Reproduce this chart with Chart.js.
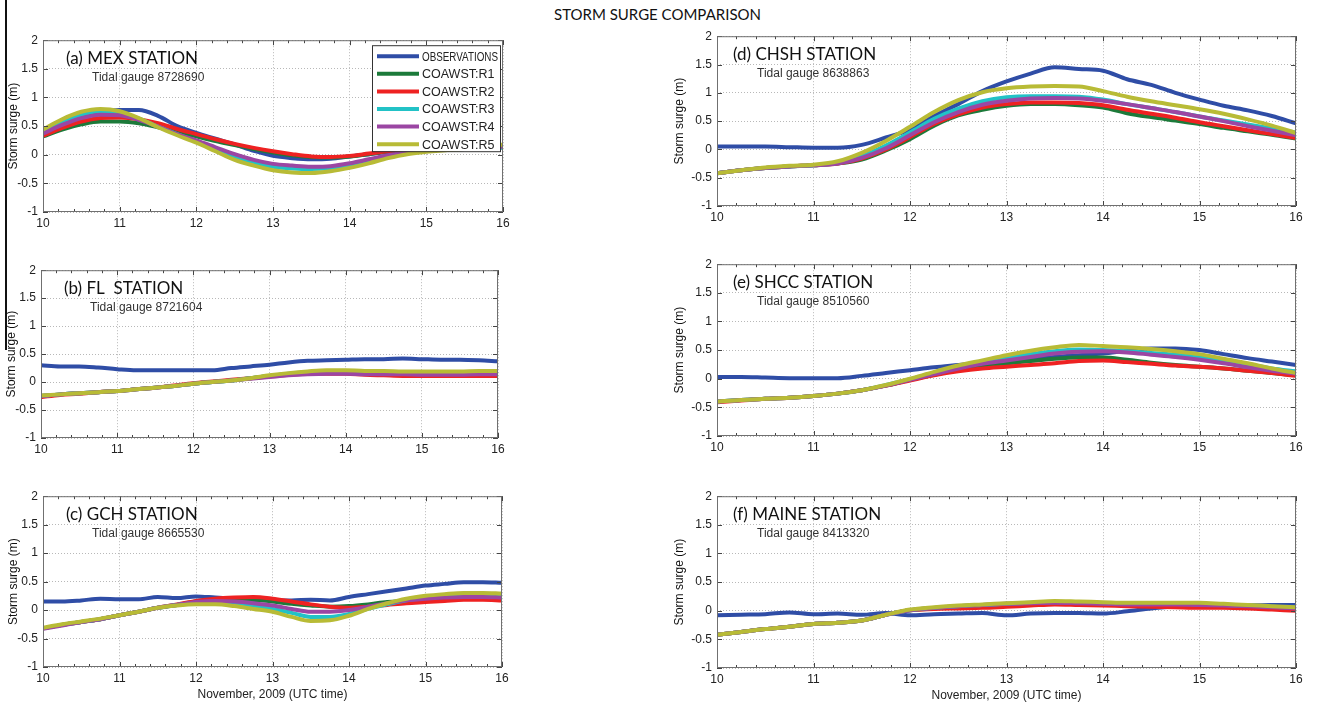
<!DOCTYPE html>
<html>
<head>
<meta charset="utf-8">
<script src="https://cdn.jsdelivr.net/npm/chart.js@4.4.0/dist/chart.umd.min.js"></script>
<style>
  body { margin: 0; background: #fff; width: 1319px; height: 708px; overflow: hidden; position: relative; }
  canvas { position: absolute; }
  #title { position: absolute; left: 0; top: 5px; width: 1315px; text-align: center;
           font: 15px Lato, "Open Sans", sans-serif; color: #111; line-height: 18px; }
  #edge { position: absolute; left: 5px; top: 0; width: 1.5px; height: 350px; background: #111; }
</style>
</head>
<body>
<div id="title">STORM SURGE COMPARISON</div>
<div id="edge"></div>
<script>
// time axis, days of November 2009
const days = [10, 10.25, 10.5, 10.75, 11, 11.25, 11.5, 11.75, 12, 12.25, 12.5, 12.75, 13,
              13.25, 13.5, 13.75, 14, 14.25, 14.5, 14.75, 15, 15.25, 15.5, 15.75, 16];

const seriesNames = ['OBSERVATIONS', 'COAWST:R1', 'COAWST:R2', 'COAWST:R3', 'COAWST:R4', 'COAWST:R5'];
const seriesColors = ['#2f4da6', '#1c7a3a', '#ee2222', '#22c2c6', '#9b46a3', '#b8bb36'];
const xTicks = [10, 11, 12, 13, 14, 15, 16];
const yTicks = [-1, -0.5, 0, 0.5, 1, 1.5, 2];

// (a) MEX
const mexObs = [0.38,0.52,0.64,0.74,0.78,0.78,0.68,0.50,0.38,0.28,0.18,0.07,-0.02,-0.06,-0.08,-0.07,-0.03,0.01,0.05,0.08,0.10,0.11,0.12,0.13,0.14];
const mexR1  = [0.32,0.44,0.53,0.58,0.58,0.55,0.48,0.40,0.32,0.24,0.17,0.10,0.04,-0.01,-0.04,-0.05,-0.03,0.01,0.05,0.08,0.10,0.11,0.12,0.13,0.14];
const mexR2  = [0.33,0.47,0.58,0.64,0.65,0.62,0.55,0.45,0.36,0.27,0.19,0.12,0.06,0.01,-0.03,-0.04,-0.02,0.02,0.06,0.09,0.11,0.12,0.12,0.13,0.13];
const mexR3  = [0.40,0.57,0.70,0.76,0.73,0.63,0.49,0.36,0.23,0.09,-0.04,-0.14,-0.21,-0.24,-0.25,-0.23,-0.18,-0.11,-0.03,0.03,0.07,0.09,0.10,0.11,0.12];
const mexR4  = [0.37,0.52,0.64,0.70,0.69,0.61,0.49,0.36,0.25,0.13,0.01,-0.09,-0.16,-0.19,-0.21,-0.20,-0.15,-0.08,-0.01,0.04,0.07,0.09,0.10,0.12,0.14];
const mexR5  = [0.44,0.62,0.75,0.80,0.76,0.64,0.48,0.34,0.21,0.06,-0.09,-0.19,-0.27,-0.31,-0.32,-0.29,-0.23,-0.15,-0.06,0.01,0.05,0.08,0.10,0.13,0.18];

// (b) FL
const flObs = [0.30,0.28,0.28,0.26,0.23,0.21,0.21,0.21,0.21,0.21,0.25,0.28,0.31,0.35,0.38,0.39,0.40,0.41,0.41,0.42,0.41,0.40,0.40,0.39,0.37];
const flR1  = [-0.25,-0.22,-0.20,-0.18,-0.16,-0.13,-0.10,-0.07,-0.03,0.00,0.03,0.07,0.11,0.14,0.16,0.17,0.17,0.16,0.15,0.15,0.15,0.15,0.15,0.15,0.15];
const flR2  = [-0.27,-0.23,-0.21,-0.18,-0.16,-0.13,-0.10,-0.06,-0.02,0.01,0.04,0.07,0.10,0.13,0.15,0.15,0.15,0.13,0.12,0.11,0.11,0.11,0.11,0.11,0.11];
const flR3  = [-0.25,-0.22,-0.20,-0.18,-0.16,-0.13,-0.10,-0.07,-0.03,0.00,0.03,0.07,0.11,0.15,0.17,0.18,0.18,0.17,0.17,0.16,0.16,0.16,0.16,0.17,0.17];
const flR4  = [-0.25,-0.22,-0.20,-0.18,-0.16,-0.13,-0.10,-0.07,-0.03,0.00,0.03,0.06,0.09,0.12,0.14,0.15,0.15,0.14,0.14,0.14,0.13,0.13,0.13,0.14,0.14];
const flR5  = [-0.24,-0.22,-0.20,-0.18,-0.16,-0.13,-0.10,-0.07,-0.03,0.00,0.03,0.07,0.12,0.16,0.19,0.21,0.21,0.20,0.20,0.19,0.19,0.19,0.19,0.20,0.20];

// (c) GCH
const gchObs = [0.15,0.15,0.17,0.20,0.19,0.19,0.23,0.21,0.24,0.22,0.20,0.18,0.17,0.17,0.18,0.17,0.23,0.28,0.33,0.38,0.43,0.46,0.49,0.49,0.48];
const gchR1  = [-0.32,-0.26,-0.21,-0.16,-0.09,-0.03,0.04,0.09,0.15,0.18,0.19,0.18,0.15,0.11,0.08,0.06,0.07,0.10,0.14,0.16,0.18,0.20,0.21,0.21,0.20];
const gchR2  = [-0.32,-0.26,-0.21,-0.16,-0.09,-0.03,0.04,0.10,0.16,0.20,0.22,0.23,0.20,0.15,0.10,0.06,0.04,0.06,0.09,0.12,0.14,0.16,0.18,0.18,0.17];
const gchR3  = [-0.32,-0.26,-0.21,-0.16,-0.09,-0.03,0.04,0.09,0.13,0.14,0.12,0.08,0.02,-0.05,-0.12,-0.12,-0.07,0.02,0.10,0.17,0.22,0.25,0.26,0.26,0.25];
const gchR4  = [-0.33,-0.27,-0.21,-0.16,-0.09,-0.03,0.04,0.09,0.14,0.16,0.15,0.12,0.08,0.02,-0.03,-0.03,0.00,0.06,0.12,0.17,0.20,0.22,0.23,0.23,0.22];
const gchR5  = [-0.31,-0.25,-0.20,-0.15,-0.09,-0.03,0.04,0.08,0.10,0.10,0.07,0.02,-0.03,-0.12,-0.19,-0.18,-0.10,0.02,0.12,0.20,0.25,0.28,0.30,0.30,0.29];

// (d) CHSH
const chshObs = [0.05,0.05,0.05,0.04,0.03,0.03,0.08,0.21,0.35,0.59,0.80,1.03,1.20,1.34,1.45,1.42,1.39,1.24,1.14,1.00,0.88,0.77,0.69,0.59,0.46];
const chshR1  = [-0.42,-0.37,-0.33,-0.30,-0.28,-0.25,-0.18,-0.02,0.18,0.42,0.60,0.70,0.77,0.80,0.80,0.78,0.74,0.64,0.57,0.51,0.45,0.38,0.32,0.26,0.19];
const chshR2  = [-0.42,-0.37,-0.33,-0.30,-0.28,-0.25,-0.16,0.00,0.22,0.45,0.62,0.74,0.80,0.83,0.83,0.82,0.78,0.70,0.63,0.56,0.48,0.41,0.34,0.27,0.20];
const chshR3  = [-0.42,-0.37,-0.33,-0.30,-0.28,-0.24,-0.12,0.07,0.30,0.54,0.72,0.85,0.92,0.94,0.94,0.93,0.88,0.80,0.73,0.66,0.58,0.51,0.44,0.37,0.30];
const chshR4  = [-0.42,-0.37,-0.33,-0.30,-0.28,-0.25,-0.15,0.02,0.25,0.48,0.66,0.79,0.86,0.90,0.91,0.90,0.86,0.80,0.73,0.66,0.58,0.50,0.41,0.33,0.25];
const chshR5  = [-0.42,-0.37,-0.32,-0.29,-0.27,-0.21,-0.06,0.15,0.40,0.66,0.87,1.01,1.08,1.11,1.12,1.11,1.03,0.93,0.85,0.78,0.71,0.63,0.53,0.42,0.29];

// (e) SHCC
const shccObs = [0.03,0.03,0.02,0.01,0.01,0.01,0.05,0.10,0.15,0.20,0.24,0.28,0.31,0.35,0.38,0.41,0.44,0.49,0.53,0.53,0.50,0.43,0.36,0.30,0.24];
const shccR1  = [-0.40,-0.37,-0.35,-0.33,-0.30,-0.26,-0.20,-0.12,-0.02,0.07,0.15,0.22,0.27,0.31,0.35,0.37,0.37,0.33,0.28,0.24,0.21,0.18,0.14,0.10,0.06];
const shccR2  = [-0.41,-0.38,-0.35,-0.33,-0.30,-0.26,-0.20,-0.12,-0.03,0.06,0.13,0.18,0.21,0.24,0.27,0.31,0.32,0.29,0.26,0.23,0.21,0.18,0.14,0.10,0.05];
const shccR3  = [-0.40,-0.37,-0.35,-0.33,-0.30,-0.26,-0.20,-0.11,-0.01,0.10,0.20,0.28,0.36,0.43,0.48,0.51,0.50,0.48,0.45,0.42,0.38,0.32,0.25,0.18,0.13];
const shccR4  = [-0.40,-0.37,-0.35,-0.33,-0.30,-0.26,-0.20,-0.12,-0.02,0.08,0.18,0.26,0.32,0.38,0.44,0.47,0.48,0.46,0.42,0.38,0.33,0.27,0.20,0.14,0.09];
const shccR5  = [-0.40,-0.37,-0.35,-0.33,-0.30,-0.26,-0.20,-0.11,0.00,0.12,0.23,0.32,0.41,0.49,0.55,0.59,0.57,0.55,0.52,0.48,0.43,0.35,0.27,0.18,0.10];

// (f) MAINE
const maineObs = [-0.08,-0.07,-0.06,-0.03,-0.06,-0.05,-0.07,-0.04,-0.08,-0.06,-0.05,-0.04,-0.08,-0.05,-0.04,-0.04,-0.05,-0.01,0.04,0.07,0.07,0.08,0.09,0.10,0.10];
const maineR1  = [-0.42,-0.37,-0.32,-0.28,-0.23,-0.21,-0.17,-0.07,0.01,0.04,0.07,0.09,0.11,0.12,0.13,0.12,0.11,0.10,0.10,0.10,0.09,0.09,0.08,0.06,0.04];
const maineR2  = [-0.42,-0.37,-0.32,-0.28,-0.23,-0.21,-0.17,-0.07,0.01,0.03,0.04,0.05,0.07,0.09,0.11,0.10,0.09,0.08,0.07,0.06,0.05,0.05,0.04,0.02,0.00];
const maineR3  = [-0.42,-0.37,-0.32,-0.28,-0.23,-0.21,-0.17,-0.07,0.01,0.05,0.08,0.10,0.12,0.14,0.15,0.14,0.13,0.12,0.12,0.12,0.11,0.10,0.09,0.07,0.05];
const maineR4  = [-0.42,-0.37,-0.32,-0.28,-0.23,-0.21,-0.17,-0.07,0.01,0.05,0.08,0.10,0.12,0.13,0.14,0.13,0.12,0.11,0.11,0.11,0.10,0.09,0.08,0.06,0.04];
const maineR5  = [-0.42,-0.37,-0.32,-0.28,-0.23,-0.21,-0.17,-0.07,0.02,0.06,0.09,0.11,0.13,0.15,0.17,0.16,0.15,0.14,0.14,0.14,0.14,0.12,0.10,0.08,0.06];

// plot boxes [left, top, right, bottom] in page pixels
const panels = [
  { label: '(a) MEX STATION',   gauge: 'Tidal gauge 8728690', series: [mexObs, mexR1, mexR2, mexR3, mexR4, mexR5],       box: [43, 37, 503, 212],   col: 0, legend: true },
  { label: '(b) FL  STATION',   gauge: 'Tidal gauge 8721604', series: [flObs, flR1, flR2, flR3, flR4, flR5],             box: [41, 267, 498, 438],  col: 0 },
  { label: '(c) GCH STATION',   gauge: 'Tidal gauge 8665530', series: [gchObs, gchR1, gchR2, gchR3, gchR4, gchR5],       box: [43, 493, 502, 667],  col: 0, xTitle: true },
  { label: '(d) CHSH STATION',  gauge: 'Tidal gauge 8638863', series: [chshObs, chshR1, chshR2, chshR3, chshR4, chshR5], box: [717, 33, 1296, 206], col: 1 },
  { label: '(e) SHCC STATION',  gauge: 'Tidal gauge 8510560', series: [shccObs, shccR1, shccR2, shccR3, shccR4, shccR5], box: [717, 261, 1296, 436], col: 1 },
  { label: '(f) MAINE STATION', gauge: 'Tidal gauge 8413320', series: [maineObs, maineR1, maineR2, maineR3, maineR4, maineR5], box: [717, 493, 1296, 668], col: 1, xTitle: true }
];

const YW = 48, XH = 24, TP = 9, RP = 14, XT = 20;
const tickFont = { family: '"Liberation Sans", Arial, sans-serif', size: 12 };

// frame, inward ticks, annotations and the legend box
const panelDecor = {
  id: 'panelDecor',
  afterDraw(chart, args, o) {
    const { ctx, chartArea: a, scales: { x, y } } = chart;
    ctx.save();
    ctx.strokeStyle = '#444';
    ctx.lineWidth = 1;
    ctx.beginPath();
    for (let i = 0; i <= 30; i++) {
      const px = Math.round(x.getPixelForValue(10 + i * 0.2)) + 0.5;
      const len = i % 5 === 0 ? 5 : 3;
      ctx.moveTo(px, a.bottom); ctx.lineTo(px, a.bottom - len);
      ctx.moveTo(px, a.top); ctx.lineTo(px, a.top + len);
    }
    yTicks.forEach(v => {
      const py = Math.round(y.getPixelForValue(v)) + 0.5;
      ctx.moveTo(a.left, py); ctx.lineTo(a.left + 5, py);
      ctx.moveTo(a.right, py); ctx.lineTo(a.right - 5, py);
    });
    ctx.stroke();
    ctx.strokeStyle = '#707070';
    ctx.strokeRect(a.left + 0.5, a.top + 0.5, a.width - 1, a.height - 1);

    ctx.fillStyle = '#111';
    ctx.textBaseline = 'middle';
    ctx.textAlign = 'left';
    ctx.font = '17px Lato, "Open Sans", sans-serif';
    ctx.fillText(o.label, a.left + (o.col ? 16 : 23), a.top + 18);
    ctx.fillStyle = '#333';
    ctx.font = '12px "Liberation Sans", Arial, sans-serif';
    ctx.fillText(o.gauge, a.left + (o.col ? 40 : 49), a.top + 37);

    // y axis title
    ctx.save();
    ctx.translate(a.left - (o.col ? 37 : 29), (a.top + a.bottom) / 2);
    ctx.rotate(-Math.PI / 2);
    ctx.textAlign = 'center';
    ctx.fillStyle = '#111';
    ctx.font = '12px "Liberation Sans", Arial, sans-serif';
    ctx.fillText('Storm surge (m)', 0, 0);
    ctx.restore();

    if (o.xTitle) {
      ctx.textAlign = 'center';
      ctx.fillStyle = '#222';
      ctx.font = '12px "Liberation Sans", Arial, sans-serif';
      ctx.fillText('November, 2009 (UTC time)', (a.left + a.right) / 2, a.bottom + 28);
    }

    if (o.legend) {
      const bx = a.right - 131, by = a.top + 5, bw = 128, bh = 106;
      ctx.fillStyle = '#fff';
      ctx.fillRect(bx, by, bw, bh);
      ctx.strokeStyle = '#333';
      ctx.strokeRect(bx + 0.5, by + 0.5, bw, bh);
      ctx.font = '12.5px "Liberation Sans Narrow", "Liberation Sans", Arial, sans-serif';
      ctx.textAlign = 'left';
      seriesNames.forEach((name, i) => {
        const ly = by + 11 + i * 17.6;
        ctx.strokeStyle = seriesColors[i];
        ctx.lineWidth = 4;
        ctx.beginPath();
        ctx.moveTo(bx + 5, ly); ctx.lineTo(bx + 47, ly);
        ctx.stroke();
        ctx.fillStyle = '#222';
        ctx.fillText(name, bx + 50, ly + 1, 76);
      });
    }
    ctx.restore();
  }
};

panels.forEach(p => {
  const [l, t, r, b] = p.box;
  const extra = p.xTitle ? XT : 0;
  const cv = document.createElement('canvas');
  cv.width = (r - l) + YW + RP;
  cv.height = (b - t) + TP + XH + extra;
  cv.style.left = (l - YW) + 'px';
  cv.style.top = (t - TP) + 'px';
  document.body.appendChild(cv);

  const datasets = p.series.map((vals, i) => ({
    label: seriesNames[i],
    data: days.map((d, k) => ({ x: d, y: vals[k] })),
    borderColor: seriesColors[i],
    borderWidth: 4,
    pointRadius: 0,
    cubicInterpolationMode: 'monotone',
    order: seriesNames.length - i
  }));

  new Chart(cv, {
    type: 'line',
    data: { datasets },
    plugins: [panelDecor],
    options: {
      responsive: false,
      animation: false,
      devicePixelRatio: 1,
      layout: { padding: { top: TP, right: RP, left: 0, bottom: extra } },
      plugins: {
        legend: { display: false },
        tooltip: { enabled: false },
        panelDecor: { label: p.label, gauge: p.gauge, col: p.col, legend: !!p.legend, xTitle: !!p.xTitle }
      },
      scales: {
        x: {
          type: 'linear', min: 10, max: 16,
          afterBuildTicks: s => { s.ticks = xTicks.map(v => ({ value: v })); },
          afterFit: s => { s.height = XH; },
          ticks: { font: tickFont, color: '#222', padding: 4, maxRotation: 0 },
          grid: { color: '#b8b8b8', lineWidth: 1, drawTicks: false },
          border: { display: false, dash: [1, 2] }
        },
        y: {
          min: -1, max: 2,
          afterBuildTicks: s => { s.ticks = yTicks.map(v => ({ value: v })); },
          afterFit: s => { s.width = YW; },
          ticks: { font: tickFont, color: '#222', padding: 5, callback: v => String(v) },
          grid: { color: '#b8b8b8', lineWidth: 1, drawTicks: false },
          border: { display: false, dash: [1, 2] }
        }
      }
    }
  });
});
</script>
</body>
</html>
